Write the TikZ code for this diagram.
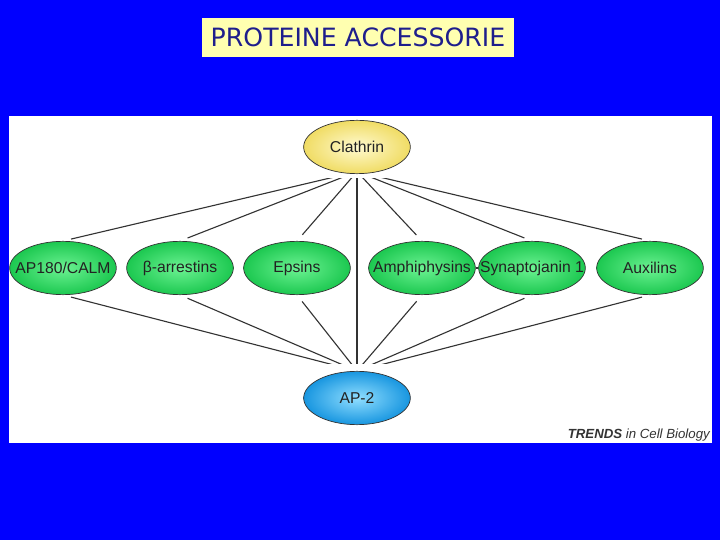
\documentclass[tikz,border=0pt]{standalone}
\usepackage{fontspec}
\setmainfont{Liberation Sans}
\newfontfamily\titlefont{DejaVu Sans}
\usepackage{tikz}
\usetikzlibrary{shapes.geometric}
\definecolor{Slide}{HTML}{0000FF}
\definecolor{TitleBg}{HTML}{FFFFB0}
\definecolor{TitleInk}{HTML}{1E1E8C}
\definecolor{Ink}{HTML}{222222}
\definecolor{Wire}{HTML}{333333}
\definecolor{YellowIn}{HTML}{FFFAD0}
\definecolor{YellowOut}{HTML}{F0DC64}
\definecolor{GreenIn}{HTML}{6CF292}
\definecolor{GreenOut}{HTML}{1CC850}
\definecolor{BlueIn}{HTML}{90DEFF}
\definecolor{BlueOut}{HTML}{1896E0}
\tikzset{
  prot/.style={ellipse,draw=black!80,line width=.6pt,minimum width=3.2cm,minimum height=1.6cm,inner xsep=-5mm,inner ysep=0pt,font=\fontsize{13.4}{16}\selectfont,text=Ink,shading=radial},
  accessory/.style={prot,inner color=GreenIn,outer color=GreenOut},
  coat/.style={prot,inner color=YellowIn,outer color=YellowOut},
  adaptor/.style={prot,inner color=BlueIn,outer color=BlueOut},
  link/.style={draw=Wire,line width=.95pt},
  titlebox/.style={fill=TitleBg,text=TitleInk,minimum width=9.36cm,minimum height=1.17cm,inner sep=0pt,font=\titlefont\fontsize{21.5}{24}\selectfont},
  credit/.style={anchor=east,text=black!80,inner sep=0pt,font=\fontsize{11.3}{13}\selectfont\itshape}
}

\begin{document}
\begin{tikzpicture}[x=.3mm,y=.3mm]
    \fill[Slide] (0,0) rectangle (720,540);
    \fill[white] (9,97) rectangle (712,424);
    \node[titlebox] (title) at (358,502.5) {PROTEINE ACCESSORIE};
    \node[coat] (clathrin) at (357,393) {Clathrin};
    \node[accessory] (ap180) at (63,272) {AP180/CALM};
    \node[accessory] (arr) at (180,272) {β-arrestins};
    \node[accessory] (eps) at (297,272) {Epsins};
    \node[accessory] (amph) at (422,272) {Amphiphysins};
    \node[accessory] (syn) at (532,272) {Synaptojanin 1};
    \node[accessory] (aux) at (650,272) {Auxilins};
    \node[adaptor] (ap2) at (357,142) {AP-2};
    \node[credit] (trends) at (710,105) {\textbf{TRENDS} in Cell Biology};
    % spokes stop short of the hub ends
    \begin{scope}
      \clip (0,176) rectangle (720,361);
      \draw[link] (clathrin.south) -- (ap2.north);
      \foreach \p in {ap180,arr,eps,amph,syn,aux}{
        \draw[link,shorten >=7pt] ([yshift=2pt]clathrin.south) -- (\p.north);
        \draw[link,shorten <=7pt] (\p.south) -- (ap2.north);
      }
    \end{scope}
    \draw[link] (amph.east) -- (syn.west);
  \end{tikzpicture}
\end{document}
